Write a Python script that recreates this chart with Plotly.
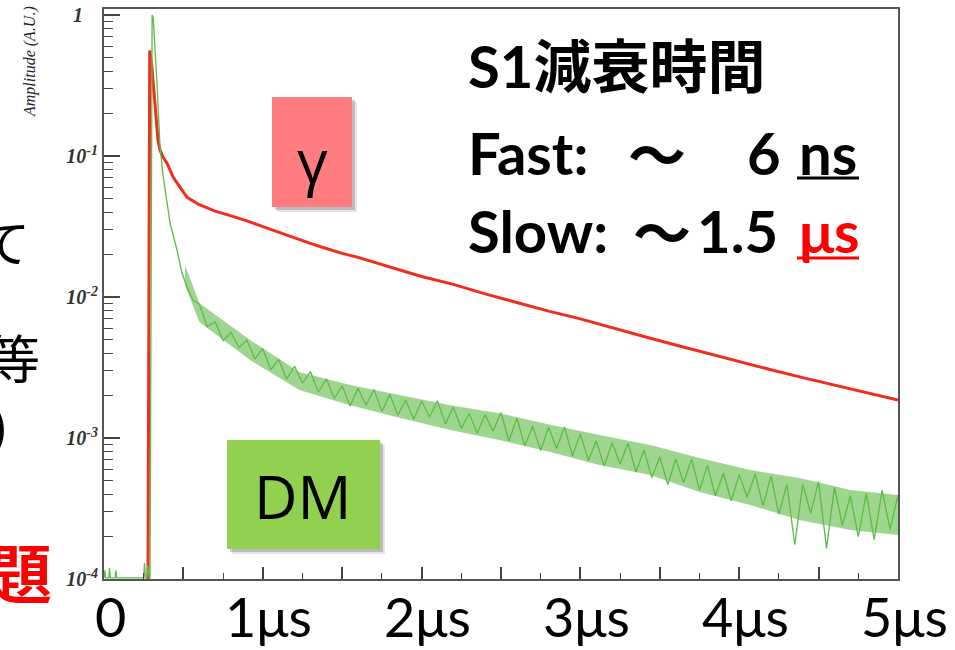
import plotly.graph_objects as go

# ---------------- waveform data (time in microseconds, amplitude in A.U.) ----------------
# gamma-ray (electron recoil) pulse
gamma_t = [0.277, 0.288, 0.300, 0.321, 0.340, 0.353, 0.372, 0.397, 0.435, 0.460, 0.523,
           0.60, 0.70, 0.80, 0.90, 1.00, 1.10, 1.20, 1.30, 1.40, 1.50,
           1.60, 1.70, 1.80, 1.90, 2.00, 2.20, 2.40, 2.60, 2.80, 3.00,
           3.20, 3.40, 3.60, 3.80, 4.00, 4.20, 4.40, 4.60, 4.80, 5.00]
gamma_amp = [1.0e-4, 0.56, 0.45, 0.25, 0.13, 0.110, 0.098, 0.089, 0.071, 0.0645, 0.051,
             0.0452, 0.0407, 0.0376, 0.0347, 0.0316, 0.0288, 0.0262, 0.0240, 0.0221, 0.0204,
             0.0191, 0.0176, 0.0162, 0.0151, 0.0140, 0.0123, 0.01052, 0.00912, 0.00794, 0.00700,
             0.00610, 0.00525, 0.00457, 0.00398, 0.00348, 0.00305, 0.00268, 0.00237, 0.00210, 0.00186]

# dark-matter-like (nuclear recoil) pulse: pre-trigger baseline, prompt spike, noisy tail
dm_t = [0.000, 0.005, 0.010, 0.030, 0.035, 0.040, 0.070, 0.075, 0.080, 0.250, 0.255, 0.260,
        0.270, 0.275, 0.285, 0.290,
        0.303, 0.310, 0.334, 0.353, 0.372, 0.397, 0.416, 0.460, 0.491, 0.529, 0.560,
        0.60, 0.65, 0.70, 0.75, 0.80, 0.85, 0.90, 0.95,
        1.00, 1.05, 1.10, 1.15, 1.20, 1.25, 1.30, 1.35,
        1.40, 1.45, 1.50, 1.55, 1.60, 1.65, 1.70, 1.75,
        1.80, 1.85, 1.90, 1.95, 2.00, 2.05, 2.10, 2.15,
        2.20, 2.25, 2.30, 2.35, 2.40, 2.45, 2.50, 2.55,
        2.60, 2.65, 2.70, 2.75, 2.80, 2.85, 2.90, 2.95,
        3.00, 3.05, 3.10, 3.15, 3.20, 3.25, 3.30, 3.35,
        3.40, 3.45, 3.50, 3.55, 3.60, 3.65, 3.70, 3.75,
        3.80, 3.85, 3.90, 3.95, 4.00, 4.05, 4.10, 4.15,
        4.20, 4.25, 4.30, 4.35, 4.40, 4.45, 4.50, 4.55,
        4.60, 4.65, 4.70, 4.75, 4.80, 4.85, 4.90, 4.95, 5.00]
dm_amp = [1.02e-4, 1.15e-4, 1.02e-4, 1.02e-4, 1.20e-4, 1.02e-4, 1.02e-4, 1.15e-4, 1.02e-4, 1.02e-4, 1.30e-4, 1.02e-4,
          1.02e-4, 1.25e-4, 1.02e-4, 1.02e-4,
          1.0, 0.95, 0.32, 0.116, 0.073, 0.045, 0.0335, 0.0215, 0.0148, 0.0112, 0.0095,
          8.91e-3, 6.17e-3, 6.68e-3, 4.90e-3, 5.62e-3, 4.37e-3, 4.95e-3, 3.63e-3,
          4.32e-3, 3.05e-3, 3.61e-3, 2.62e-3, 3.23e-3, 2.45e-3, 2.96e-3, 2.12e-3,
          2.63e-3, 1.91e-3, 2.34e-3, 1.69e-3, 2.25e-3, 1.71e-3, 2.21e-3, 1.54e-3,
          2.04e-3, 1.45e-3, 1.86e-3, 1.36e-3, 1.83e-3, 1.41e-3, 1.84e-3, 1.26e-3,
          1.66e-3, 1.17e-3, 1.49e-3, 1.08e-3, 1.46e-3, 1.12e-3, 1.52e-3, 9.53e-4,
          1.38e-3, 8.81e-4, 1.21e-3, 8.15e-4, 1.19e-3, 8.43e-4, 1.20e-3, 7.48e-4,
          1.07e-3, 6.92e-4, 9.51e-4, 6.32e-4, 9.25e-4, 6.55e-4, 9.18e-4, 5.74e-4,
          8.22e-4, 5.25e-4, 7.33e-4, 4.68e-4, 7.08e-4, 4.84e-4, 7.08e-4, 4.27e-4,
          6.38e-4, 3.89e-4, 5.62e-4, 3.59e-4, 5.50e-4, 3.80e-4, 5.56e-4, 3.31e-4,
          5.37e-4, 2.88e-4, 4.69e-4, 1.75e-4, 4.70e-4, 2.93e-4, 4.91e-4, 1.65e-4,
          4.47e-4, 2.40e-4, 3.90e-4, 2.00e-4, 4.05e-4, 1.90e-4, 4.28e-4, 2.25e-4, 3.94e-4]

# spread of the noisy DM tail (upper / lower edge of the fluctuation band)
dm_band_t = [0.51, 0.60, 0.92, 1.23, 1.55, 1.86, 2.18, 2.49, 2.81, 3.12, 3.44, 3.75, 4.07, 4.38, 4.70, 5.00]
dm_band_hi = [0.0169, 9.06e-3, 4.95e-3, 2.94e-3, 2.38e-3, 2.02e-3, 1.71e-3, 1.50e-3,
              1.24e-3, 1.05e-3, 8.91e-4, 7.21e-4, 5.93e-4, 5.20e-4, 4.28e-4, 3.94e-4]
dm_band_lo = [0.0122, 6.65e-3, 3.57e-3, 2.19e-3, 1.71e-3, 1.39e-3, 1.14e-3, 9.68e-4,
              7.96e-4, 6.44e-4, 5.47e-4, 4.14e-4, 3.35e-4, 2.62e-4, 2.23e-4, 2.05e-4]

# axis ticks
x_major = [0, 0.5, 1, 1.5, 2, 2.5, 3, 3.5, 4, 4.5, 5]
x_label_vals = [0, 1, 2, 3, 4, 5]
x_label_text = ["0", "1μs", "2μs", "3μs", "4μs", "5μs"]
y_major = [1e-4, 1e-3, 1e-2, 1e-1, 1]
y_labels = ["10<sup>-4</sup>", "10<sup>-3</sup>", "10<sup>-2</sup>", "10<sup>-1</sup>",
            "1\u00a0\u00a0\u00a0"]
y_minor = [m * 10.0 ** e for e in range(-4, 0) for m in range(2, 10)]

# ---------------- page geometry ----------------
W, H = 955, 650
ML, MR, MT, MB = 104, 57, 9, 71
PW, PH = W - ML - MR, H - MT - MB


def px(x):
    return (x - ML) / PW


def py(y):
    return (H - MB - y) / PH


SLIDE_FONT = "Lato, 'Noto Sans CJK JP', sans-serif"
CJK_FONT = "'Noto Sans CJK JP', sans-serif"
RED = "#EE2E1E"
GREEN = "#5DBB46"

fig = go.Figure()
fig.add_trace(go.Scatter(x=gamma_t, y=gamma_amp, mode="lines",
                         line=dict(color=RED, width=3), hoverinfo="skip"))
fig.add_trace(go.Scatter(x=dm_band_t + dm_band_t[::-1], y=dm_band_hi + dm_band_lo[::-1],
                         mode="lines", fill="toself", fillcolor="rgba(93,187,70,0.6)",
                         line=dict(width=0), hoverinfo="skip"))
fig.add_trace(go.Scatter(x=dm_t, y=dm_amp, mode="lines",
                         line=dict(color=GREEN, width=1.3), hoverinfo="skip"))


def text(s, x, y, size, color="black", xanchor="center", family=SLIDE_FONT,
         weight="normal", style="normal", angle=0):
    return dict(text=s, x=px(x), y=py(y), xref="paper", yref="paper",
                xanchor=xanchor, yanchor="middle", showarrow=False, textangle=angle,
                font=dict(family=family, size=size, color=color, weight=weight, style=style))


annotations = [
    # axis title
    text("Amplitude (A.U.)", 30, 62, 16, color="#222", family="'Liberation Serif', serif",
         style="italic", angle=-90),
    # decay time summary
    text("S1減衰時間", 466, 66, 58, weight="bold", xanchor="left"),
    text("Fast:", 466, 152, 58, weight="bold", xanchor="left"),
    text("～", 657, 152, 58, weight="bold", family=CJK_FONT),
    text("6", 783, 152, 58, weight="bold", xanchor="right"),
    text("ns", 797, 152, 58, weight="bold", xanchor="left"),
    text("Slow:", 466, 230, 58, weight="bold", xanchor="left"),
    text("～", 662, 230, 58, weight="bold", family=CJK_FONT),
    text("1.5", 780, 230, 58, weight="bold", xanchor="right"),
    text("μs", 797, 230, 58, weight="bold", xanchor="left", color="#FF0000"),
    # event-type tags
    text("γ", 312, 160, 60, family="'Open Sans', sans-serif"),
    text("DM", 303, 496, 60, family="'Open Sans', sans-serif"),
    # neighbouring slide text at the left edge
    text("て", 5, 240, 50, family=CJK_FONT),
    text("等", 14, 356, 52, family=CJK_FONT),
    text("）", 16, 428, 62, family=CJK_FONT),
    text("題", 20, 570, 64, color="#FF0000", family=CJK_FONT, weight="bold"),
]
# time-axis labels, placed on the x scale
for v, s in zip(x_label_vals, x_label_text):
    annotations.append(dict(text=s, x=v, y=py(616), xref="x", yref="paper",
                            xanchor="center", yanchor="middle", xshift=6, showarrow=False,
                            font=dict(family="Lato, sans-serif", size=54, color="black")))

shapes = []
for (x0, y0, x1, y1, fill) in [(272, 97, 352, 207, "#FF7C80"), (227, 440, 380, 549, "#92D050")]:
    for off, op in [(5, 0.10), (3, 0.18)]:
        shapes.append(dict(type="rect", xref="paper", yref="paper", layer="above",
                           x0=px(x0 + off), x1=px(x1 + off), y0=py(y0 + off), y1=py(y1 + off),
                           line=dict(width=0), fillcolor=f"rgba(0,0,0,{op})"))
    shapes.append(dict(type="rect", xref="paper", yref="paper", layer="above",
                       x0=px(x0), x1=px(x1), y0=py(y0), y1=py(y1),
                       line=dict(width=0), fillcolor=fill))
# underlines of the units
for (y, c) in [(178, "black"), (258, "#FF0000")]:
    shapes.append(dict(type="line", xref="paper", yref="paper", layer="above",
                       x0=px(797), x1=px(859), y0=py(y), y1=py(y),
                       line=dict(color=c, width=3)))

fig.update_layout(
    width=W, height=H, autosize=False,
    margin=dict(l=ML, r=MR, t=MT, b=MB, pad=0),
    paper_bgcolor="white", plot_bgcolor="white",
    showlegend=False,
    annotations=annotations, shapes=shapes,
)
fig.update_xaxes(
    range=[0, 5], showgrid=False, zeroline=False, automargin=False,
    showline=True, linecolor="#555", linewidth=2, mirror=True,
    tickmode="array", tickvals=x_major, showticklabels=False,
    ticks="inside", ticklen=12, tickwidth=1.5, tickcolor="#444",
    minor=dict(dtick=0.25, tick0=0, ticks="inside", ticklen=6, tickwidth=1.2, tickcolor="#444"),
)
fig.update_yaxes(
    type="log", range=[-4, 0.043], showgrid=False, zeroline=False, automargin=False,
    showline=True, linecolor="#555", linewidth=2, mirror=True,
    tickmode="array", tickvals=y_major, ticktext=y_labels,
    ticks="inside", ticklen=16, tickwidth=1.5, tickcolor="#444",
    minor=dict(tickvals=y_minor, ticks="inside", ticklen=9, tickwidth=1.2, tickcolor="#444"),
    tickfont=dict(family="'Liberation Serif', serif", size=20, color="#333",
                  weight="bold", style="italic"),
    ticklabelstandoff=0,
)

fig.write_html("out.html")
